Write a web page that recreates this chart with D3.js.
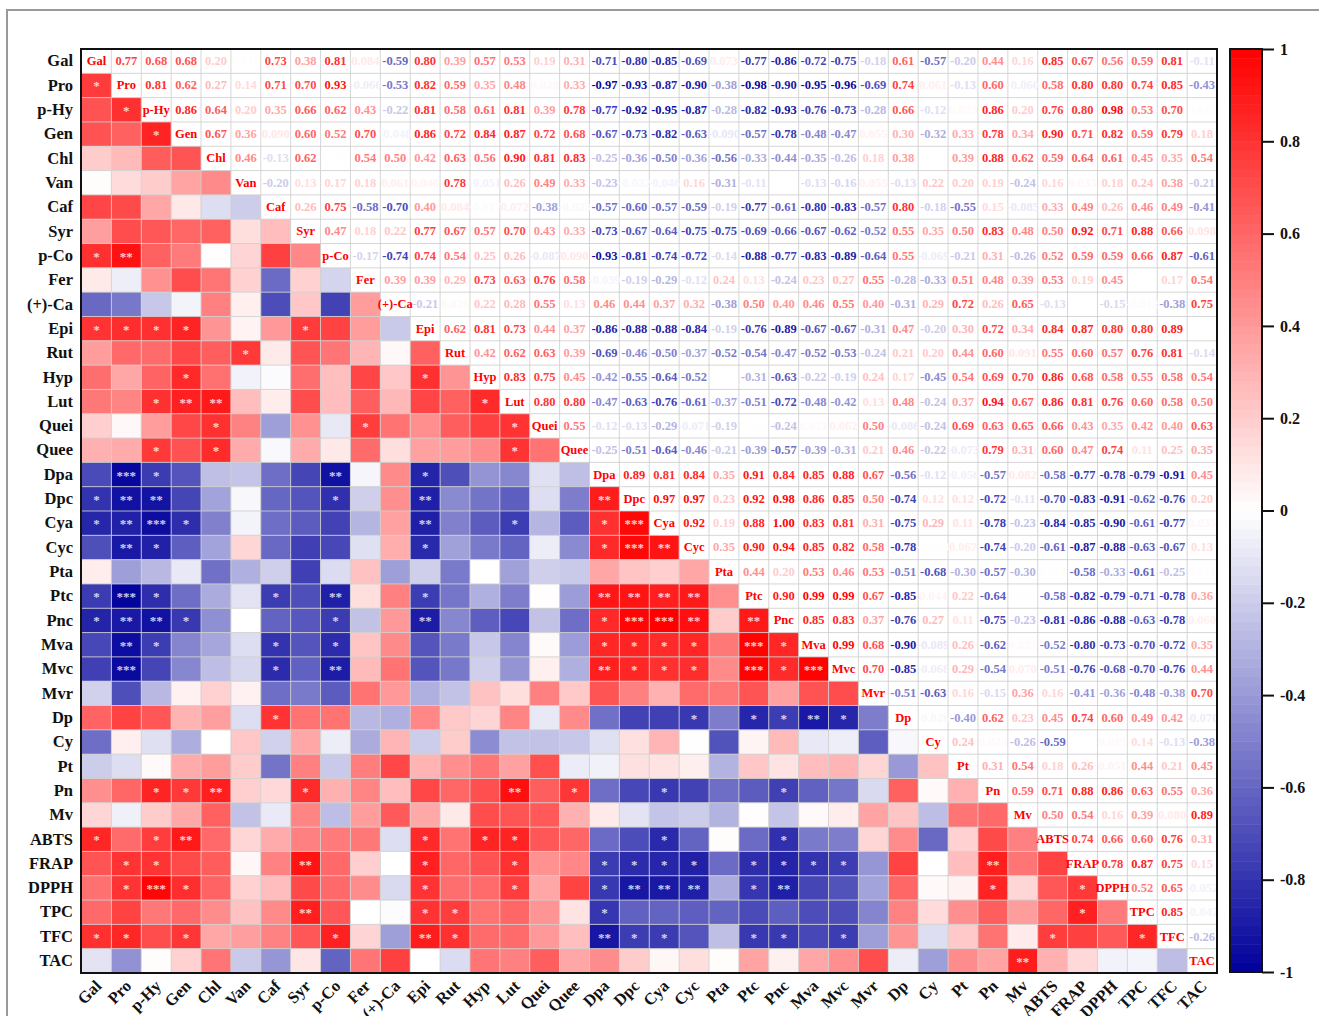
<!DOCTYPE html>
<html>
<head>
  <meta charset="utf-8">
  <script src="https://d3js.org/d3.v7.min.js"></script>
  <style>
    html, body { margin: 0; padding: 0; background: #fff; }
    text { font-family: "Liberation Serif", "Times New Roman", serif; font-weight: bold; }
    .domain { display: none; }
  </style>
</head>
<body>
<div id="chart"></div>
<script>
var labels = ["Gal","Pro","p-Hy","Gen","Chl","Van","Caf","Syr","p-Co","Fer","(+)-Ca","Epi","Rut","Hyp","Lut","Quei","Quee","Dpa","Dpc","Cya","Cyc","Pta","Ptc","Pnc","Mva","Mvc","Mvr","Dp","Cy","Pt","Pn","Mv","ABTS","FRAP","DPPH","TPC","TFC","TAC"];

// upper triangle, row by row, starting right of the diagonal. null = cell looks empty
var upper = [
  [.77,.68,.68,.20,.012,.73,.38,.81,.084,-.59,.80,.39,.57,.53,.19,.31,-.71,-.80,-.85,-.69,.073,-.77,-.86,-.72,-.75,-.18,.61,-.57,-.20,.44,.16,.85,.67,.56,.59,.81,-.11],
  [.81,.62,.27,.14,.71,.70,.93,-.066,-.53,.82,.59,.35,.48,.028,.33,-.97,-.93,-.87,-.90,-.38,-.98,-.90,-.95,-.96,-.69,.74,.061,-.13,.60,-.060,.58,.80,.80,.74,.85,-.43],
  [.86,.64,.20,.35,.66,.62,.43,-.22,.81,.58,.61,.81,.39,.78,-.77,-.92,-.95,-.87,-.28,-.82,-.93,-.76,-.73,-.28,.66,-.12,.025,.86,.20,.76,.80,.98,.53,.70,.012],
  [.67,.36,.090,.60,.52,.70,-.048,.86,.72,.84,.87,.72,.68,-.67,-.73,-.82,-.63,-.090,-.57,-.78,-.48,-.47,.055,.30,-.32,.33,.78,.34,.90,.71,.82,.59,.79,.18],
  [.46,-.13,.62,.002,.54,.50,.42,.63,.56,.90,.81,.83,-.25,-.36,-.50,-.36,-.56,-.33,-.44,-.35,-.26,.18,.38,null,.39,.88,.62,.59,.64,.61,.45,.35,.54],
  [-.20,.13,.17,.18,.061,.046,.78,-.051,.26,.49,.33,-.23,-.032,-.046,.16,-.31,-.11,null,-.13,-.16,.055,-.13,.22,.20,.19,-.24,.16,.033,.18,.24,.38,-.21],
  [.26,.75,-.58,-.70,.40,.084,-.017,.072,-.38,-.023,-.57,-.60,-.57,-.59,-.19,-.77,-.61,-.80,-.83,-.57,.80,-.18,-.55,.15,-.085,.33,.49,.26,.46,.49,-.41],
  [.47,.18,.22,.77,.67,.57,.70,.43,.33,-.73,-.67,-.64,-.75,-.75,-.69,-.66,-.67,-.62,-.52,.55,.35,.50,.83,.48,.50,.92,.71,.88,.66,.098],
  [-.17,-.74,.74,.54,.25,.26,-.087,.090,-.93,-.81,-.74,-.72,-.14,-.88,-.77,-.83,-.89,-.64,.55,-.069,-.21,.31,-.26,.52,.59,.59,.66,.87,-.61],
  [.39,.39,.29,.73,.63,.76,.58,-.039,-.19,-.29,-.12,.24,.13,-.24,.23,.27,.55,-.28,-.33,.51,.48,.39,.53,.19,.45,null,.17,.54],
  [-.21,.026,.22,.28,.55,.13,.46,.44,.37,.32,-.38,.50,.40,.46,.55,.40,-.31,.29,.72,.26,.65,-.13,null,-.15,-.012,-.38,.75],
  [.62,.81,.73,.44,.37,-.86,-.88,-.88,-.84,-.19,-.76,-.89,-.67,-.67,-.31,.47,-.20,.30,.72,.34,.84,.87,.80,.80,.89,null],
  [.42,.62,.63,.39,-.69,-.46,-.50,-.37,-.52,-.54,-.47,-.52,-.53,-.24,.21,.20,.44,.60,.091,.55,.60,.57,.76,.81,-.14],
  [.83,.75,.45,-.42,-.55,-.64,-.52,null,-.31,-.63,-.22,-.19,.24,.17,-.45,.54,.69,.70,.86,.68,.58,.55,.58,.54],
  [.80,.80,-.47,-.63,-.76,-.61,-.37,-.51,-.72,-.48,-.42,.13,.48,-.24,.37,.94,.67,.86,.81,.76,.60,.58,.50],
  [.55,-.12,-.13,-.29,-.071,-.19,.009,-.24,.021,.062,.50,-.086,-.24,.69,.63,.65,.66,.43,.35,.42,.40,.63],
  [-.25,-.51,-.64,-.46,-.21,-.39,-.57,-.39,-.31,.21,.46,-.22,-.073,.79,.31,.60,.47,.74,.11,.25,.35],
  [.89,.81,.84,.35,.91,.84,.85,.88,.67,-.56,-.12,-.056,-.57,.082,-.58,-.77,-.78,-.79,-.91,.45],
  [.97,.97,.23,.92,.98,.86,.85,.50,-.74,.12,.12,-.72,-.11,-.70,-.83,-.91,-.62,-.76,.20],
  [.92,.19,.88,1.00,.83,.81,.31,-.75,.29,.11,-.78,-.23,-.84,-.85,-.90,-.61,-.77,.035],
  [.35,.90,.94,.85,.82,.58,-.78,-.003,.067,-.74,-.20,-.61,-.87,-.88,-.63,-.67,.13],
  [.44,.20,.53,.46,.53,-.51,-.68,-.30,-.57,-.30,.010,-.58,-.33,-.61,-.25,.011],
  [.90,.99,.99,.67,-.85,.044,.22,-.64,.008,-.58,-.82,-.79,-.71,-.78,.36],
  [.85,.83,.37,-.76,.27,.11,-.75,-.23,-.81,-.86,-.88,-.63,-.78,.060],
  [.99,.68,-.90,-.089,.26,-.62,.022,-.52,-.80,-.73,-.70,-.72,.35],
  [.70,-.85,-.068,.29,-.54,.070,-.51,-.76,-.68,-.70,-.76,.44],
  [-.51,-.63,.16,-.15,.36,.16,-.41,-.36,-.48,-.38,.70],
  [-.026,-.40,.62,.23,.45,.74,.60,.49,.42,-.070],
  [.24,.024,-.26,-.59,null,.025,.14,-.13,-.38],
  [.31,.54,.18,.26,.051,.44,.21,.45],
  [.59,.71,.88,.86,.63,.55,.36],
  [.50,.54,.16,.39,.080,.89],
  [.74,.66,.60,.76,.31],
  [.78,.87,.75,.15],
  [.52,.65,-.052],
  [.85,-.042],
  [-.26]
];

// significance marks in the lower triangle: row -> columns
var oneStar = {
  "Pro":["Gal"], "p-Hy":["Pro"], "Gen":["p-Hy"], "p-Co":["Gal"],
  "Epi":["Gal","Pro","p-Hy","Gen","Syr"], "Rut":["Van"], "Hyp":["Gen","Epi"],
  "Lut":["p-Hy","Hyp"], "Quei":["Chl","Fer","Lut"], "Quee":["p-Hy","Chl","Lut"],
  "Dpa":["p-Hy","Epi"], "Dpc":["Gal","p-Co"], "Cya":["Gal","Gen","Lut","Dpa"],
  "Cyc":["p-Hy","Epi","Dpa"], "Ptc":["Gal","p-Hy","Caf","Epi"],
  "Pnc":["Gal","Gen","p-Co","Dpa"],
  "Mva":["p-Hy","Caf","p-Co","Dpa","Dpc","Cya","Cyc","Pnc"],
  "Mvc":["Caf","Dpc","Cya","Cyc","Pnc"], "Dp":["Caf","Cyc","Ptc","Pnc","Mvc"],
  "Pn":["p-Hy","Gen","Syr","Quee","Cya","Pnc"],
  "ABTS":["Gal","p-Hy","Epi","Hyp","Lut","Cya","Pnc"],
  "FRAP":["Pro","p-Hy","Epi","Lut","Dpa","Dpc","Cya","Cyc","Ptc","Pnc","Mva","Mvc"],
  "DPPH":["Pro","Gen","Epi","Lut","Dpa","Ptc","Pn","FRAP"],
  "TPC":["Epi","Rut","Dpa","FRAP"],
  "TFC":["Gal","Pro","Gen","p-Co","Rut","Dpc","Cya","Ptc","Pnc","Mvc","ABTS","TPC"]
};
var twoStar = {
  "p-Co":["Pro"], "Lut":["Gen","Chl"], "Dpa":["p-Co"],
  "Dpc":["Pro","p-Hy","Epi","Dpa"], "Cya":["Pro","Epi"], "Cyc":["Pro","Cya"],
  "Ptc":["p-Co","Dpa","Dpc","Cya","Cyc"], "Pnc":["Pro","p-Hy","Epi","Cyc","Ptc"],
  "Mva":["Pro"], "Mvc":["p-Co","Dpa"], "Dp":["Mva"], "Pn":["Chl","Lut"],
  "ABTS":["Gen"], "FRAP":["Syr","Pn"], "DPPH":["Dpc","Cya","Cyc","Pnc"],
  "TPC":["Syr"], "TFC":["Epi","Dpa"], "TAC":["Mv"]
};
var threeStar = {
  "Dpa":["Pro"], "Cya":["p-Hy","Dpc"], "Cyc":["Dpc"], "Ptc":["Pro"],
  "Pnc":["Dpc","Cya"], "Mva":["Ptc"], "Mvc":["Pro","Ptc","Mva"], "DPPH":["p-Hy"]
};

var colorTicks = [1, 0.8, 0.6, 0.4, 0.2, 0, -0.2, -0.4, -0.6, -0.8, -1];

var width = 1319, height = 1016;
var svg = d3.select("#chart").append("svg")
  .attr("width", width).attr("height", height)
  .style("display", "block");

// grey page frame from the original figure
svg.append("path")
  .attr("d", "M7,1016V10H1319")
  .attr("fill", "none").attr("stroke", "#999").attr("stroke-width", 2);

var x = d3.scaleBand().domain(labels).range([81.5, 1217]);
var y = d3.scaleBand().domain(labels).range([49, 973]);
var color = d3.scaleLinear().domain([-1, 0, 1]).range(["#00009b", "#ffffff", "#ff0000"]);

// build the cell list from the upper triangle
var cells = [];
upper.forEach(function (row, i) {
  row.forEach(function (v, k) {
    cells.push({ row: labels[i], col: labels[i + 1 + k], value: v });
  });
});

// lower triangle: filled cells
svg.append("g").selectAll("rect.low")
  .data(cells)
  .enter().append("rect")
    .attr("class", "low")
    .attr("x", function (d) { return x(d.row); })
    .attr("y", function (d) { return y(d.col); })
    .attr("width", x.bandwidth())
    .attr("height", y.bandwidth())
    .attr("fill", function (d) { return d.value === null ? "#fff" : color(d.value); });

// grid over everything
var grid = svg.append("g").attr("stroke", "#cfcfcf").attr("stroke-opacity", 0.85).attr("stroke-width", 1);
labels.forEach(function (l) {
  grid.append("line").attr("x1", x(l)).attr("x2", x(l)).attr("y1", 49).attr("y2", 973);
  grid.append("line").attr("x1", 81.5).attr("x2", 1217).attr("y1", y(l)).attr("y2", y(l));
});

// upper triangle: numbers
svg.append("g").selectAll("text")
  .data(cells.filter(function (d) { return d.value !== null; }))
  .enter().append("text")
    .attr("x", function (d) { return x(d.col) + x.bandwidth() / 2; })
    .attr("y", function (d) { return y(d.row) + y.bandwidth() / 2; })
    .attr("dy", "0.32em")
    .attr("text-anchor", "middle")
    .attr("font-size", 12.5)
    .attr("fill", function (d) { return color(d.value); })
    .text(function (d) { return d3.format(Math.abs(d.value) < 0.1 ? ".3f" : ".2f")(d.value).replace("\u2212", "-"); });

// diagonal names
svg.append("g").selectAll("text")
  .data(labels)
  .enter().append("text")
    .attr("x", function (d) { return x(d) + x.bandwidth() / 2; })
    .attr("y", function (d) { return y(d) + y.bandwidth() / 2; })
    .attr("dy", "0.32em")
    .attr("text-anchor", "middle")
    .attr("font-size", 12.5)
    .attr("fill", "#ff0000")
    .text(function (d) { return d; });

// stars
var starGroup = svg.append("g");
[[oneStar, "*"], [twoStar, "**"], [threeStar, "***"]].forEach(function (level) {
  Object.keys(level[0]).forEach(function (row) {
    level[0][row].forEach(function (col) {
      starGroup.append("text")
        .attr("x", x(col) + x.bandwidth() / 2)
        .attr("y", y(row) + y.bandwidth() / 2 + 5)
        .attr("text-anchor", "middle")
        .attr("font-size", 13)
        .attr("fill", "#fff")
        .attr("fill-opacity", 0.8)
        .text(level[1]);
    });
  });
});

// axes
var axisLeft = svg.append("g")
  .attr("transform", "translate(81,0)")
  .call(d3.axisLeft(y).tickSize(0).tickPadding(8));
axisLeft.selectAll("text")
  .attr("font-size", 16.5).attr("fill", "#111")
  .style("font-family", "'Liberation Serif', serif").style("font-weight", "bold");

var axisBottom = svg.append("g")
  .attr("transform", "translate(0,973)")
  .call(d3.axisBottom(x).tickSize(0));
axisBottom.selectAll("text")
  .attr("y", 0).attr("dy", 0)
  .attr("text-anchor", "end")
  .attr("transform", "translate(6,14) rotate(-45)")
  .attr("font-size", 16.5).attr("fill", "#111")
  .style("font-family", "'Liberation Serif', serif").style("font-weight", "bold");

// plot frame
svg.append("rect")
  .attr("x", 81).attr("y", 49).attr("width", 1136).attr("height", 924)
  .attr("fill", "none").attr("stroke", "#111").attr("stroke-width", 2);

// colour bar
var barY = d3.scaleLinear().domain([-1, 1]).range([972, 49]);
var steps = d3.range(-1, 1, 0.02);
svg.append("g").selectAll("rect")
  .data(steps)
  .enter().append("rect")
    .attr("x", 1230)
    .attr("width", 32)
    .attr("y", function (d) { return barY(d + 0.02); })
    .attr("height", function (d) { return barY(d) - barY(d + 0.02) + 0.5; })
    .attr("fill", function (d) { return color(d + 0.01); });
svg.append("rect")
  .attr("x", 1230).attr("y", 49).attr("width", 32).attr("height", 923)
  .attr("fill", "none").attr("stroke", "#111").attr("stroke-width", 2);

var barAxis = svg.append("g")
  .attr("transform", "translate(1262,0)")
  .call(d3.axisRight(barY).tickValues(colorTicks).tickSize(12).tickPadding(6)
    .tickFormat(function (d) { return String(d); }));
barAxis.selectAll("line").attr("stroke", "#111").attr("stroke-width", 2);
barAxis.selectAll("text")
  .attr("font-size", 16).attr("fill", "#111")
  .style("font-family", "'Liberation Serif', serif").style("font-weight", "bold");
</script>
</body>
</html>
